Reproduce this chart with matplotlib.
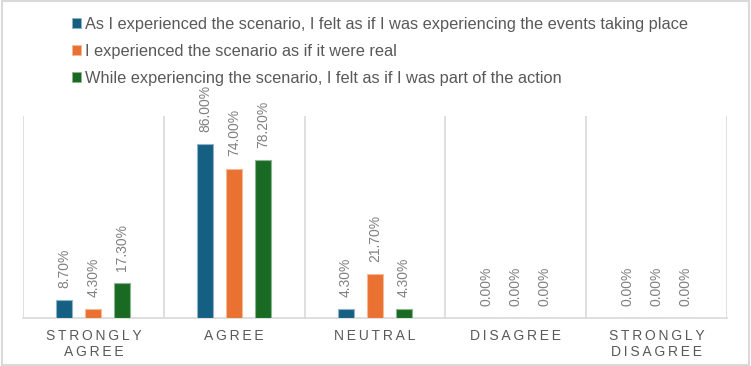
import numpy as np
import matplotlib
matplotlib.use("Agg")
import matplotlib.pyplot as plt
from matplotlib.patches import Patch, Rectangle

# %% Data
categories = ["STRONGLY\nAGREE", "AGREE", "NEUTRAL", "DISAGREE", "STRONGLY\nDISAGREE"]
series_names = [
    "As I experienced the scenario, I felt as if I was experiencing the events taking place",
    "I experienced the scenario as if it were real",
    "While experiencing the scenario, I felt as if I was part of the action",
]
experiencing_events = [8.7, 86.0, 4.3, 0.0, 0.0]
as_if_real = [4.3, 74.0, 21.7, 0.0, 0.0]
part_of_action = [17.3, 78.2, 4.3, 0.0, 0.0]
values = [experiencing_events, as_if_real, part_of_action]

colors = ["#156082", "#E97132", "#196B24"]
edge_colors = ["#8fb3c6", "#f6b895", "#8cb492"]


def spaced(label):
    # Excel-style letter spacing
    return "\n".join("\u2009".join(line) for line in label.split("\n"))


# %% Plot
plt.rcParams["font.family"] = ["Liberation Sans", "DejaVu Sans"]
fig = plt.figure(figsize=(7.51, 3.66), dpi=100)
ax = fig.add_axes([23 / 751, 1 - 318 / 366, 704 / 751, 202 / 366])

x = np.arange(len(categories))
width = 0.113
offsets = [-0.206, 0.0, 0.206]
for vals, off, c, ec in zip(values, offsets, colors, edge_colors):
    bars = ax.bar(x + off, vals, width, color=c, edgecolor=ec, linewidth=0.8, zorder=3)
    for b, v in zip(bars, vals):
        ax.annotate(f"{v:.2f}%", (b.get_x() + b.get_width() / 2, v),
                    xytext=(0, 9), textcoords="offset points",
                    rotation=90, ha="center", va="bottom",
                    fontsize=10, color="#808080", annotation_clip=False)

ax.set_xlim(-0.5, len(categories) - 0.5)
ax.set_ylim(0, 100)
ax.set_yticks([])
ax.set_xticks(x)
ax.set_xticklabels([spaced(c) for c in categories], fontsize=10, color="#595959",
                   linespacing=1.2)
ax.tick_params(axis="x", length=0, pad=8)
ax.set_xticks(np.arange(-0.5, len(categories)), minor=True)
ax.tick_params(axis="x", which="minor", length=0)
ax.grid(axis="x", which="minor", color="#d9d9d9", linewidth=1.2)
ax.set_axisbelow(True)
for s in ["top", "left", "right"]:
    ax.spines[s].set_visible(False)
ax.spines["bottom"].set_color("#d9d9d9")
ax.spines["bottom"].set_linewidth(1.2)

handles = [Patch(facecolor=c, edgecolor=ec, linewidth=0.6) for c, ec in zip(colors, edge_colors)]
leg = fig.legend(handles, series_names, loc="upper left", bbox_to_anchor=(72 / 751, 1 - 17 / 366),
                 frameon=False, handlelength=0.52, handleheight=0.52, fontsize=11.8,
                 handletextpad=0.25, labelspacing=0.72, borderpad=0, borderaxespad=0)
for t in leg.get_texts():
    t.set_color("#595959")

fig.patches.append(Rectangle((0.002, 0.003), 0.996, 0.994, transform=fig.transFigure,
                             fill=False, edgecolor="#d9d9d9", linewidth=1.5))

plt.savefig("out.png", dpi=100)
